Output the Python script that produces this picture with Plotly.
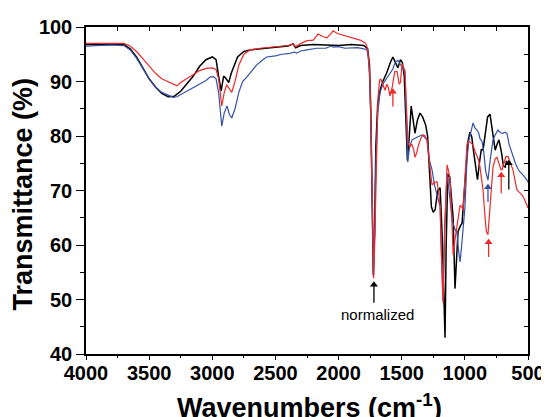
import plotly.graph_objects as go

# ---- data (wavenumber cm-1, transmittance %) ----
black_wn = [4000, 3900, 3800, 3700, 3650, 3600, 3550, 3500, 3450, 3400, 3350, 3300, 3250, 3200, 3150, 3100, 3050, 3000,
            2970, 2950, 2930, 2910, 2890, 2870, 2850, 2800, 2750, 2700, 2600, 2500, 2400, 2360, 2340, 2300, 2200, 2100,
            2000, 1900, 1800, 1770, 1755, 1745, 1735, 1725, 1715, 1705, 1690, 1670, 1650, 1620, 1590, 1570, 1550, 1530,
            1510, 1495, 1480, 1465, 1455, 1440, 1425, 1410, 1395, 1375, 1355, 1335, 1310, 1295, 1280, 1265, 1250, 1235,
            1215, 1196, 1180, 1165, 1157, 1148, 1135, 1120, 1105, 1093, 1078, 1065, 1054, 1035, 1022, 1010, 999, 985,
            975, 960, 945, 930, 915, 900, 885, 870, 856, 840, 820, 801, 785, 770, 760, 745, 730, 710, 695, 680, 670]
black_t = [96.8, 96.8, 96.9, 96.8, 96.0, 94.5, 92.5, 90.5, 89.0, 87.8, 87.2, 87.3, 88.2, 89.5, 91.0, 92.8, 94.0, 94.5,
           94.0, 91.0, 88.3, 91.0, 90.5, 89.8, 91.5, 94.5, 95.5, 95.8, 96.1, 96.3, 96.5, 96.9, 96.2, 96.6, 96.8, 96.7,
           96.6, 96.8, 96.6, 96.0, 93.0, 85.0, 70.0, 54.5, 62.0, 78.0, 86.0, 88.5, 90.0, 91.5, 93.5, 94.5, 93.5, 92.5,
           94.0, 93.5, 91.0, 82.0, 75.5, 80.0, 85.5, 83.0, 80.5, 83.0, 84.2, 83.5, 82.0, 80.0, 74.0, 67.0, 66.0, 66.5,
           70.0, 70.5, 62.0, 48.0, 43.0, 60.0, 73.0, 72.5, 68.0, 65.0, 52.0, 57.0, 62.5, 63.5, 64.0, 68.0, 71.5, 77.0,
           79.0, 80.7, 79.8, 77.0, 74.0, 72.0, 75.0, 77.5, 77.4, 80.0, 83.5, 84.0, 81.0, 78.5, 77.4, 78.5, 79.3, 77.0,
           74.5, 74.3, 75.5]

red_wn = [4000, 3900, 3800, 3700, 3650, 3600, 3550, 3500, 3450, 3400, 3350, 3300, 3280, 3250, 3200, 3150, 3100, 3050,
          3000, 2970, 2950, 2925, 2905, 2886, 2865, 2846, 2820, 2790, 2750, 2700, 2620, 2500, 2400, 2360, 2340, 2305,
          2250, 2200, 2163, 2120, 2092, 2060, 2044, 2010, 1965, 1920, 1870, 1830, 1806, 1785, 1770, 1755, 1745, 1735,
          1722, 1712, 1700, 1688, 1675, 1664, 1650, 1632, 1618, 1605, 1593, 1575, 1555, 1537, 1520, 1510, 1498, 1485,
          1474, 1462, 1450, 1435, 1420, 1405, 1395, 1380, 1371, 1350, 1331, 1315, 1300, 1285, 1270, 1260, 1240, 1220,
          1205, 1196, 1185, 1173, 1160, 1141, 1128, 1117, 1105, 1093, 1078, 1062, 1050, 1038, 1025, 1014, 1000, 990,
          983, 970, 959, 945, 935, 920, 904, 890, 880, 865, 856, 840, 830, 817, 805, 790, 777, 760, 746, 730, 715, 706,
          690, 675, 658, 640, 619, 600, 587, 570, 548, 530, 515, 505, 500]
red_t = [97.0, 97.0, 97.1, 97.0, 96.5, 95.5, 94.2, 92.8, 91.5, 90.5, 89.9, 89.3, 89.2, 89.8, 90.5, 91.3, 92.0, 92.4,
         92.5, 92.2, 90.5, 85.5, 88.0, 89.4, 88.6, 88.0, 90.0, 93.0, 95.0, 95.8, 96.1, 96.4, 96.6, 96.9, 96.4, 96.9,
         97.5, 97.6, 98.7, 98.2, 98.0, 98.8, 99.3, 98.8, 98.5, 98.2, 98.0, 97.6, 97.3, 97.0, 96.0, 92.0, 84.0, 70.0,
         53.9, 62.0, 78.0, 87.0, 90.3, 90.4, 89.5, 88.4, 89.5, 88.8, 87.3, 89.0, 91.8, 91.8, 89.5, 89.8, 93.2, 92.5,
         92.0, 85.0, 78.7, 78.0, 78.5, 77.5, 76.1, 77.0, 78.0, 79.5, 80.2, 80.0, 79.3, 76.0, 72.5, 71.0, 71.5, 71.6,
         69.0, 67.0, 58.0, 49.4, 62.0, 74.7, 73.5, 72.0, 66.0, 58.2, 61.0, 63.3, 65.5, 67.3, 67.0, 66.4, 72.0, 77.0,
         78.5, 79.0, 78.9, 78.6, 78.3, 77.2, 76.1, 75.5, 74.3, 72.0, 70.1, 65.0, 62.5, 61.9, 66.0, 71.5, 74.3, 75.8,
         76.1, 75.0, 73.9, 73.8, 75.0, 76.2, 76.2, 75.0, 73.8, 71.5, 70.1, 69.7, 69.2, 68.5, 67.5, 67.0, 66.8]

blue_wn = [4000, 3900, 3800, 3700, 3650, 3600, 3550, 3500, 3450, 3400, 3350, 3311, 3280, 3250, 3200, 3150, 3100, 3050,
           3018, 2990, 2970, 2950, 2925, 2905, 2883, 2865, 2846, 2820, 2790, 2760, 2727, 2700, 2650, 2600, 2569, 2500,
           2450, 2400, 2350, 2331, 2300, 2250, 2200, 2173, 2100, 2060, 2040, 2000, 1950, 1900, 1850, 1800, 1775, 1765,
           1755, 1745, 1735, 1724, 1714, 1704, 1690, 1672, 1650, 1620, 1593, 1570, 1550, 1530, 1515, 1498, 1485, 1474,
           1462, 1452, 1438, 1418, 1395, 1375, 1355, 1339, 1320, 1300, 1280, 1260, 1240, 1212, 1196, 1185, 1173, 1160,
           1141, 1125, 1101, 1080, 1062, 1050, 1038, 1025, 1010, 999, 990, 983, 970, 959, 945, 935, 920, 904, 890, 880,
           864, 850, 835, 817, 800, 777, 760, 738, 718, 698, 680, 667, 650, 627, 600, 580, 564, 545, 525, 508, 500]
blue_t = [96.5, 96.6, 96.7, 96.6, 95.8, 94.3, 92.4, 90.5, 89.0, 88.0, 87.5, 87.1, 87.2, 87.6, 88.2, 88.8, 89.5, 90.2,
          90.8, 90.9, 90.5, 88.0, 81.8, 84.3, 85.5, 84.0, 83.3, 85.0, 88.0, 90.0, 90.8, 91.5, 93.0, 94.0, 94.5, 94.7,
          95.0, 95.1, 95.4, 95.2, 95.6, 95.8, 96.0, 96.1, 96.1, 96.5, 96.3, 96.4, 96.1, 96.2, 96.2, 96.0, 95.8, 94.5,
          91.0, 83.0, 68.0, 54.2, 63.0, 76.0, 84.0, 87.9, 89.5, 90.5, 91.5, 92.3, 93.6, 93.9, 93.3, 92.8, 92.2, 91.5,
          83.0, 75.2, 78.0, 79.3, 79.6, 79.8, 80.0, 80.2, 79.8, 79.3, 75.5, 73.8, 71.0, 68.3, 67.0, 58.0, 49.9, 63.0,
          73.2, 70.0, 64.6, 63.0, 62.2, 59.0, 56.9, 60.0, 64.0, 67.0, 72.0, 75.6, 79.0, 80.0, 81.5, 82.4, 81.5, 81.1,
          80.5, 79.5, 79.0, 77.0, 73.5, 71.9, 75.5, 79.3, 80.2, 81.1, 80.6, 80.5, 80.7, 80.5, 78.5, 76.8, 75.0, 74.0,
          73.4, 73.0, 72.5, 71.9, 71.5]

# arrow markers: wavenumber, head and tail transmittance, colour
arrow_wn = [1720, 1570, 817, 812, 712, 652]
arrow_head = [52.7, 88.1, 70.6, 60.5, 72.8, 75.0]
arrow_tail = [49.4, 85.4, 67.9, 57.8, 69.5, 70.2]
arrow_col = ["black", "#ee2a2a", "#3452a8", "#ee2a2a", "#ee2a2a", "black"]

x_ticks = [4000, 3500, 3000, 2500, 2000, 1500, 1000, 500]
y_ticks = [40, 50, 60, 70, 80, 90, 100]

RED = "#ee2a2a"
BLUE = "#3452a8"
FONT = "Arial, Liberation Sans, sans-serif"

fig = go.Figure()
fig.add_trace(go.Scatter(x=black_wn, y=black_t, mode="lines", line=dict(color="black", width=1.5),
                         showlegend=False))
fig.add_trace(go.Scatter(x=blue_wn, y=blue_t, mode="lines", line=dict(color=BLUE, width=1.2), showlegend=False))
fig.add_trace(go.Scatter(x=red_wn, y=red_t, mode="lines", line=dict(color=RED, width=1.2), showlegend=False))

# arrows (shaft + head marker)
for wn, h, t, c in zip(arrow_wn, arrow_head, arrow_tail, arrow_col):
    fig.add_trace(go.Scatter(x=[wn, wn], y=[t, h], mode="lines", line=dict(color=c, width=1.3),
                             showlegend=False, hoverinfo="skip"))
    fig.add_trace(go.Scatter(x=[wn], y=[h], mode="markers",
                             marker=dict(symbol="triangle-up", size=7, color=c, line=dict(width=0)),
                             showlegend=False, hoverinfo="skip"))

# invisible traces carrying the extra tick-only axes (top/right mirrors, bottom ticks)
fig.add_trace(go.Scatter(x=[None], y=[None], xaxis="x2", yaxis="y2", showlegend=False, hoverinfo="skip"))
fig.add_trace(go.Scatter(x=[None], y=[None], xaxis="x3", yaxis="y", showlegend=False, hoverinfo="skip"))

fig.add_annotation(x=1690, y=47.2, text="normalized", showarrow=False,
                   font=dict(family=FONT, size=15, color="black"))

# axis titles
fig.add_annotation(xref="paper", yref="paper", x=0.505, y=-0.16, xanchor="center", yanchor="middle",
                   text="Wavenumbers (cm<sup>-1</sup>)", showarrow=False,
                   font=dict(family=FONT, size=27, color="black", weight="bold"))
fig.add_annotation(xref="paper", yref="paper", x=-0.143, y=0.49, xanchor="center", yanchor="middle",
                   text="Transmittance (%)", textangle=-90, showarrow=False,
                   font=dict(family=FONT, size=27, color="black", weight="bold"))

# the page body adds an 8 px offset, so margins are shifted by 8 px
fig.update_layout(
    width=549, height=417,
    margin=dict(l=78, r=29, t=19, b=71, autoexpand=False),
    paper_bgcolor="white", plot_bgcolor="white",
    xaxis=dict(range=[4000, 500], tickvals=x_ticks, showline=True, linecolor="black", linewidth=1.5,
               ticks="", showgrid=False, zeroline=False, automargin=False,
               tickfont=dict(family=FONT, size=20, color="black", weight="bold")),
    xaxis3=dict(range=[4000, 500], overlaying="x", side="bottom", anchor="y", showline=False,
                ticks="outside", tickvals=x_ticks, ticklen=5, tickwidth=1.3, tickcolor="black",
                showticklabels=False, showgrid=False, zeroline=False, automargin=False,
                minor=dict(dtick=250, ticks="outside", ticklen=3, tickcolor="black", tickwidth=1.2)),
    yaxis=dict(range=[40, 100], tickvals=y_ticks, showline=True, linecolor="black", linewidth=1.5,
               ticks="outside", ticklen=8, tickwidth=1.3, tickcolor="black", showgrid=False, zeroline=False,
               automargin=False,
               minor=dict(dtick=5, ticks="outside", ticklen=4, tickcolor="black", tickwidth=1.2),
               tickfont=dict(family=FONT, size=20, color="black", weight="bold")),
    xaxis2=dict(range=[4000, 500], overlaying="x", side="top", anchor="y2", showline=True, linecolor="black",
                linewidth=1.5, ticks="inside", dtick=250, tick0=500, ticklen=4, tickcolor="black",
                showticklabels=False, showgrid=False, zeroline=False, automargin=False),
    yaxis2=dict(range=[40, 100], overlaying="y", side="right", anchor="x2", showline=True, linecolor="black",
                linewidth=1.5, ticks="inside", dtick=5, tick0=40, ticklen=4, tickcolor="black",
                showticklabels=False, showgrid=False, zeroline=False, automargin=False),
)

fig.write_html("out.html")
